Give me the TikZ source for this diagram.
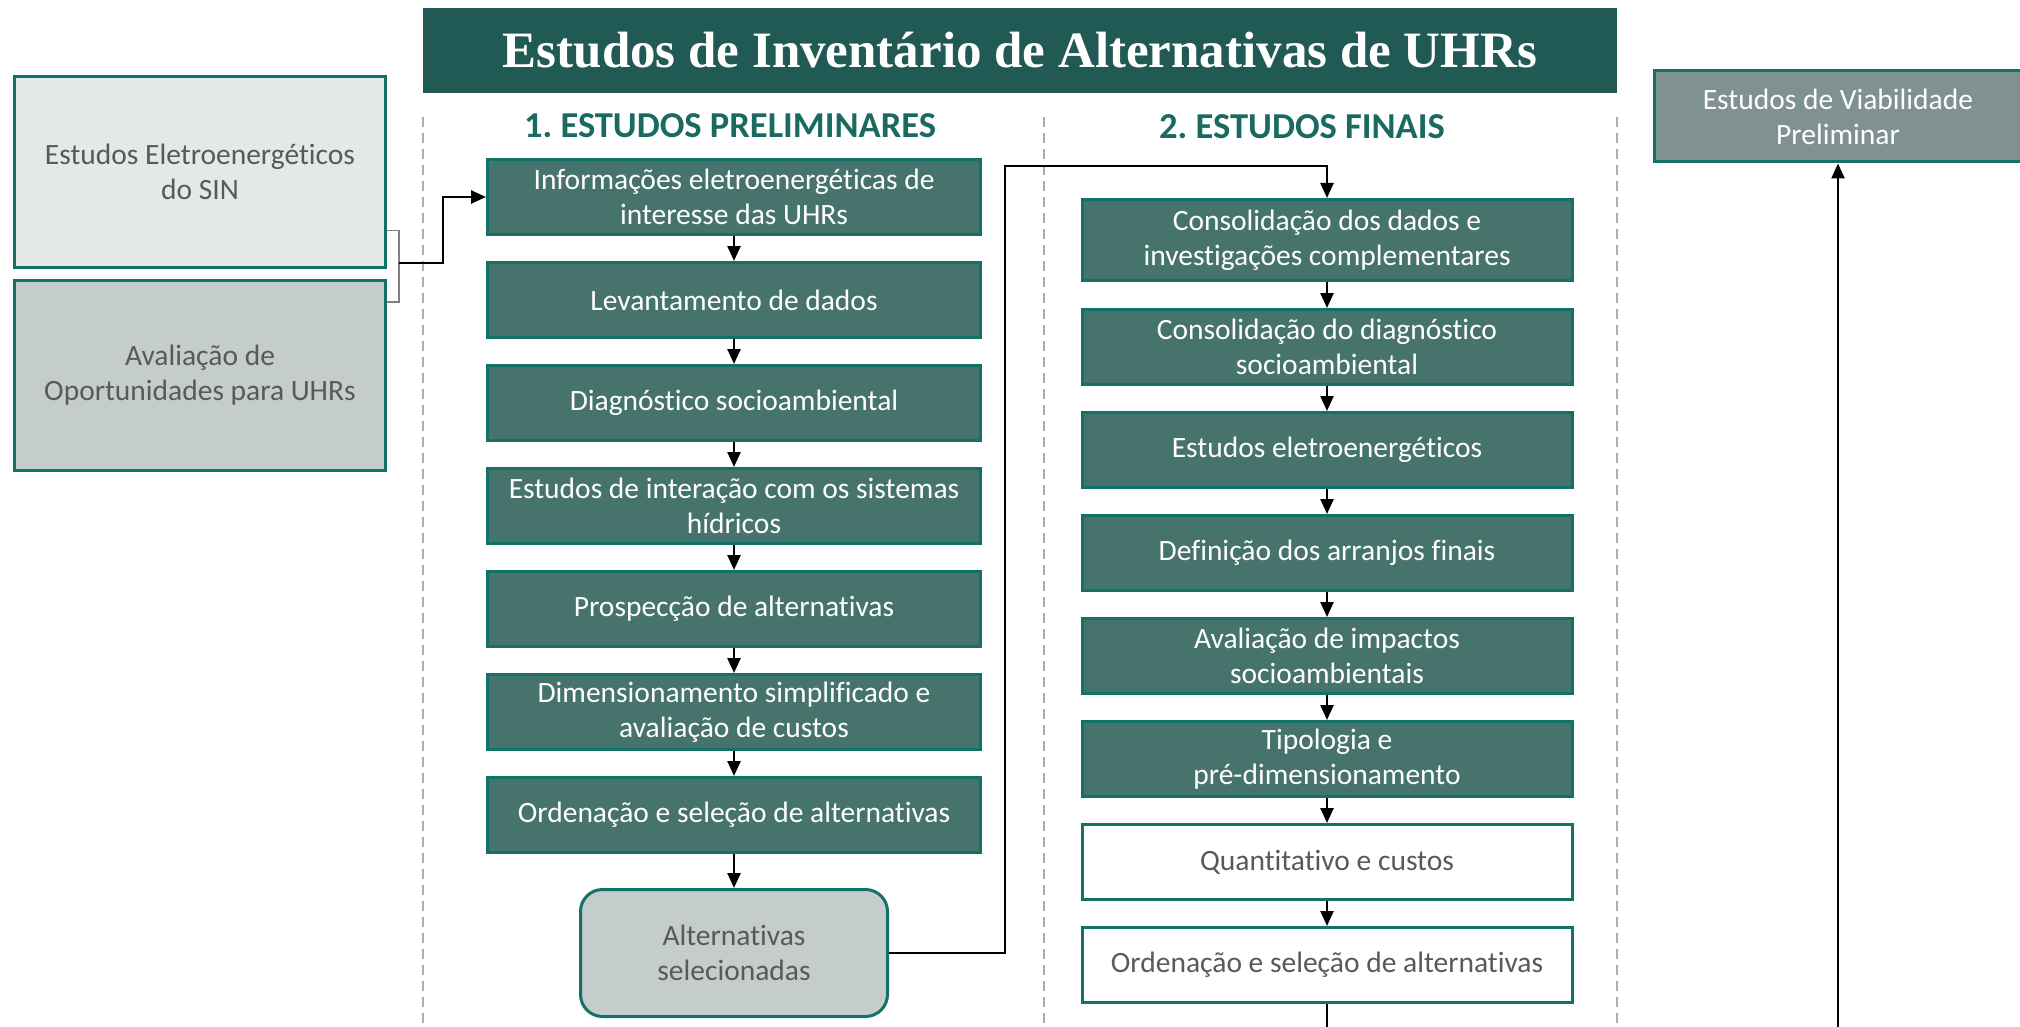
\documentclass[tikz,border=0pt]{standalone}
\usepackage{fontspec}
\setmainfont[Ligatures=NoCommon]{Carlito}
\newfontfamily\titlefont{Liberation Serif}
\usetikzlibrary{arrows.meta}
\frenchspacing

\definecolor{tealdark}{HTML}{215A55}
\definecolor{etapafill}{HTML}{47736D}
\definecolor{borda}{HTML}{127267}
\definecolor{cinzaclaro}{HTML}{E4E8E8}
\definecolor{cinzamedio}{HTML}{C4CDCC}
\definecolor{cinzaescuro}{HTML}{7F9191}
\definecolor{textocinza}{HTML}{595959}
\definecolor{tracejado}{HTML}{A3B0AF}
\definecolor{cabec}{HTML}{1B6A62}

\begin{document}
\begin{tikzpicture}[x=1pt,y=1pt,
    etapa/.style = {draw=borda, line width=3pt, fill=etapafill, text=white, minimum width=493pt, minimum height=75pt, align=center, inner sep=0pt, font=\fontsize{29.5}{35}\selectfont},
    etapa2/.style = {etapa, minimum width=490pt},
    branca/.style = {etapa2, fill=white, text=textocinza},
    fonte/.style = {draw=borda, line width=3pt, text=textocinza, minimum width=371pt, minimum height=190pt, align=center, inner sep=0pt, font=\fontsize{29.5}{35}\selectfont},
    cabecalho/.style = {text=cabec, font=\bfseries\fontsize{36.5}{42}\selectfont},
    seta/.style = {line width=2.5pt, -{Triangle[length=15pt,width=13pt]}},
    divisa/.style = {draw=tracejado, line width=1.5pt, dash pattern=on 10pt off 6pt},
    node distance={103pt}]
    \useasboundingbox (0,0) rectangle (2020,-1027);

    % titulo e colunas
    \node[fill=tealdark, text=white, minimum width=1194pt, minimum height=85pt, font=\titlefont\bfseries\fontsize{51}{60}\selectfont] (t) at (1020,-50.5) {Estudos de Invent\'ario de Alternativas de UHRs};
    \draw[divisa] (423,-117) -- (423,-1027);
    \draw[divisa] (1044,-117) -- (1044,-1027);
    \draw[divisa] (1617,-117) -- (1617,-1027);
    \node[cabecalho] (h1) at (730,-126) {1. ESTUDOS PRELIMINARES};
    \node[cabecalho] (h2) at (1302,-127) {2. ESTUDOS FINAIS};

    % entradas
    \node[fonte, fill=cinzaclaro] (e1) at (200,-172) {Estudos Eletroenerg\'eticos\\do SIN};
    \node[fonte, fill=cinzamedio] (e2) at (200,-375.5) {Avalia\c{c}\~ao de\\Oportunidades para UHRs};
    \node[fonte, fill=cinzaescuro, text=white, minimum width=367pt, minimum height=91pt] (v) at (1838,-116.5) {Estudos de Viabilidade\\Preliminar};

    % 1. estudos preliminares
    \node[etapa] (p1) at (734,-197) {Informa\c{c}\~oes eletroenerg\'eticas de\\interesse das UHRs};
    \node[etapa] (p2) [below of=p1] {Levantamento de dados};
    \node[etapa] (p3) [below of=p2] {Diagn\'ostico socioambiental};
    \node[etapa] (p4) [below of=p3] {Estudos de intera\c{c}\~ao com os sistemas\\h\'idricos};
    \node[etapa] (p5) [below of=p4] {Prospec\c{c}\~ao de alternativas};
    \node[etapa] (p6) [below of=p5] {Dimensionamento simplificado e\\avalia\c{c}\~ao de custos};
    \node[etapa] (p7) [below of=p6] {Ordena\c{c}\~ao e sele\c{c}\~ao de alternativas};
    \node[fonte, fill=cinzamedio, rounded corners=22pt, minimum width=307pt, minimum height=127pt] (alt) at (734,-953) {Alternativas\\selecionadas};

    % 2. estudos finais
    \node[etapa2, minimum height=81pt] (f1) at (1327,-240) {Consolida\c{c}\~ao dos dados e\\investiga\c{c}\~oes complementares};
    \node[etapa2] (f2) at (1327,-347) {Consolida\c{c}\~ao do diagn\'ostico\\socioambiental};
    \node[etapa2] (f3) [below of=f2] {Estudos eletroenerg\'eticos};
    \node[etapa2] (f4) [below of=f3] {Defini\c{c}\~ao dos arranjos finais};
    \node[etapa2] (f5) [below of=f4] {Avalia\c{c}\~ao de impactos\\socioambientais};
    \node[etapa2] (f6) [below of=f5] {Tipologia e\\pr\'e-dimensionamento};
    \node[branca] (f7) [below of=f6] {Quantitativo e custos};
    \node[branca] (f8) [below of=f7] {Ordena\c{c}\~ao e sele\c{c}\~ao de alternativas};

    \coordinate (j) at (399,-263);
    \coordinate (k) at (1005,-166);
    \coordinate (fim) at (1327,-1027);
    \coordinate (base) at (1838,-1027);

    \draw[draw=gray, line width=1.5pt] ([yshift=38pt]e1.south east) -| (j) |- ([yshift=-23pt]e2.north east);
    \draw[seta] (j) -- ++(44,0) |- (p1.west);
    \draw[seta] (p1) -- (p2);
    \draw[seta] (p2) -- (p3);
    \draw[seta] (p3) -- (p4);
    \draw[seta] (p4) -- (p5);
    \draw[seta] (p5) -- (p6);
    \draw[seta] (p6) -- (p7);
    \draw[seta] (p7) -- (alt);
    \draw[seta] (alt.east) -| (k) -| (f1.north);
    \draw[seta] (f1) -- (f2);
    \draw[seta] (f2) -- (f3);
    \draw[seta] (f3) -- (f4);
    \draw[seta] (f4) -- (f5);
    \draw[seta] (f5) -- (f6);
    \draw[seta] (f6) -- (f7);
    \draw[seta] (f7) -- (f8);
    \draw[line width=2.5pt] (f8) -- (fim);
    \draw[seta] (base) -- (v.south);
\end{tikzpicture}
\end{document}
